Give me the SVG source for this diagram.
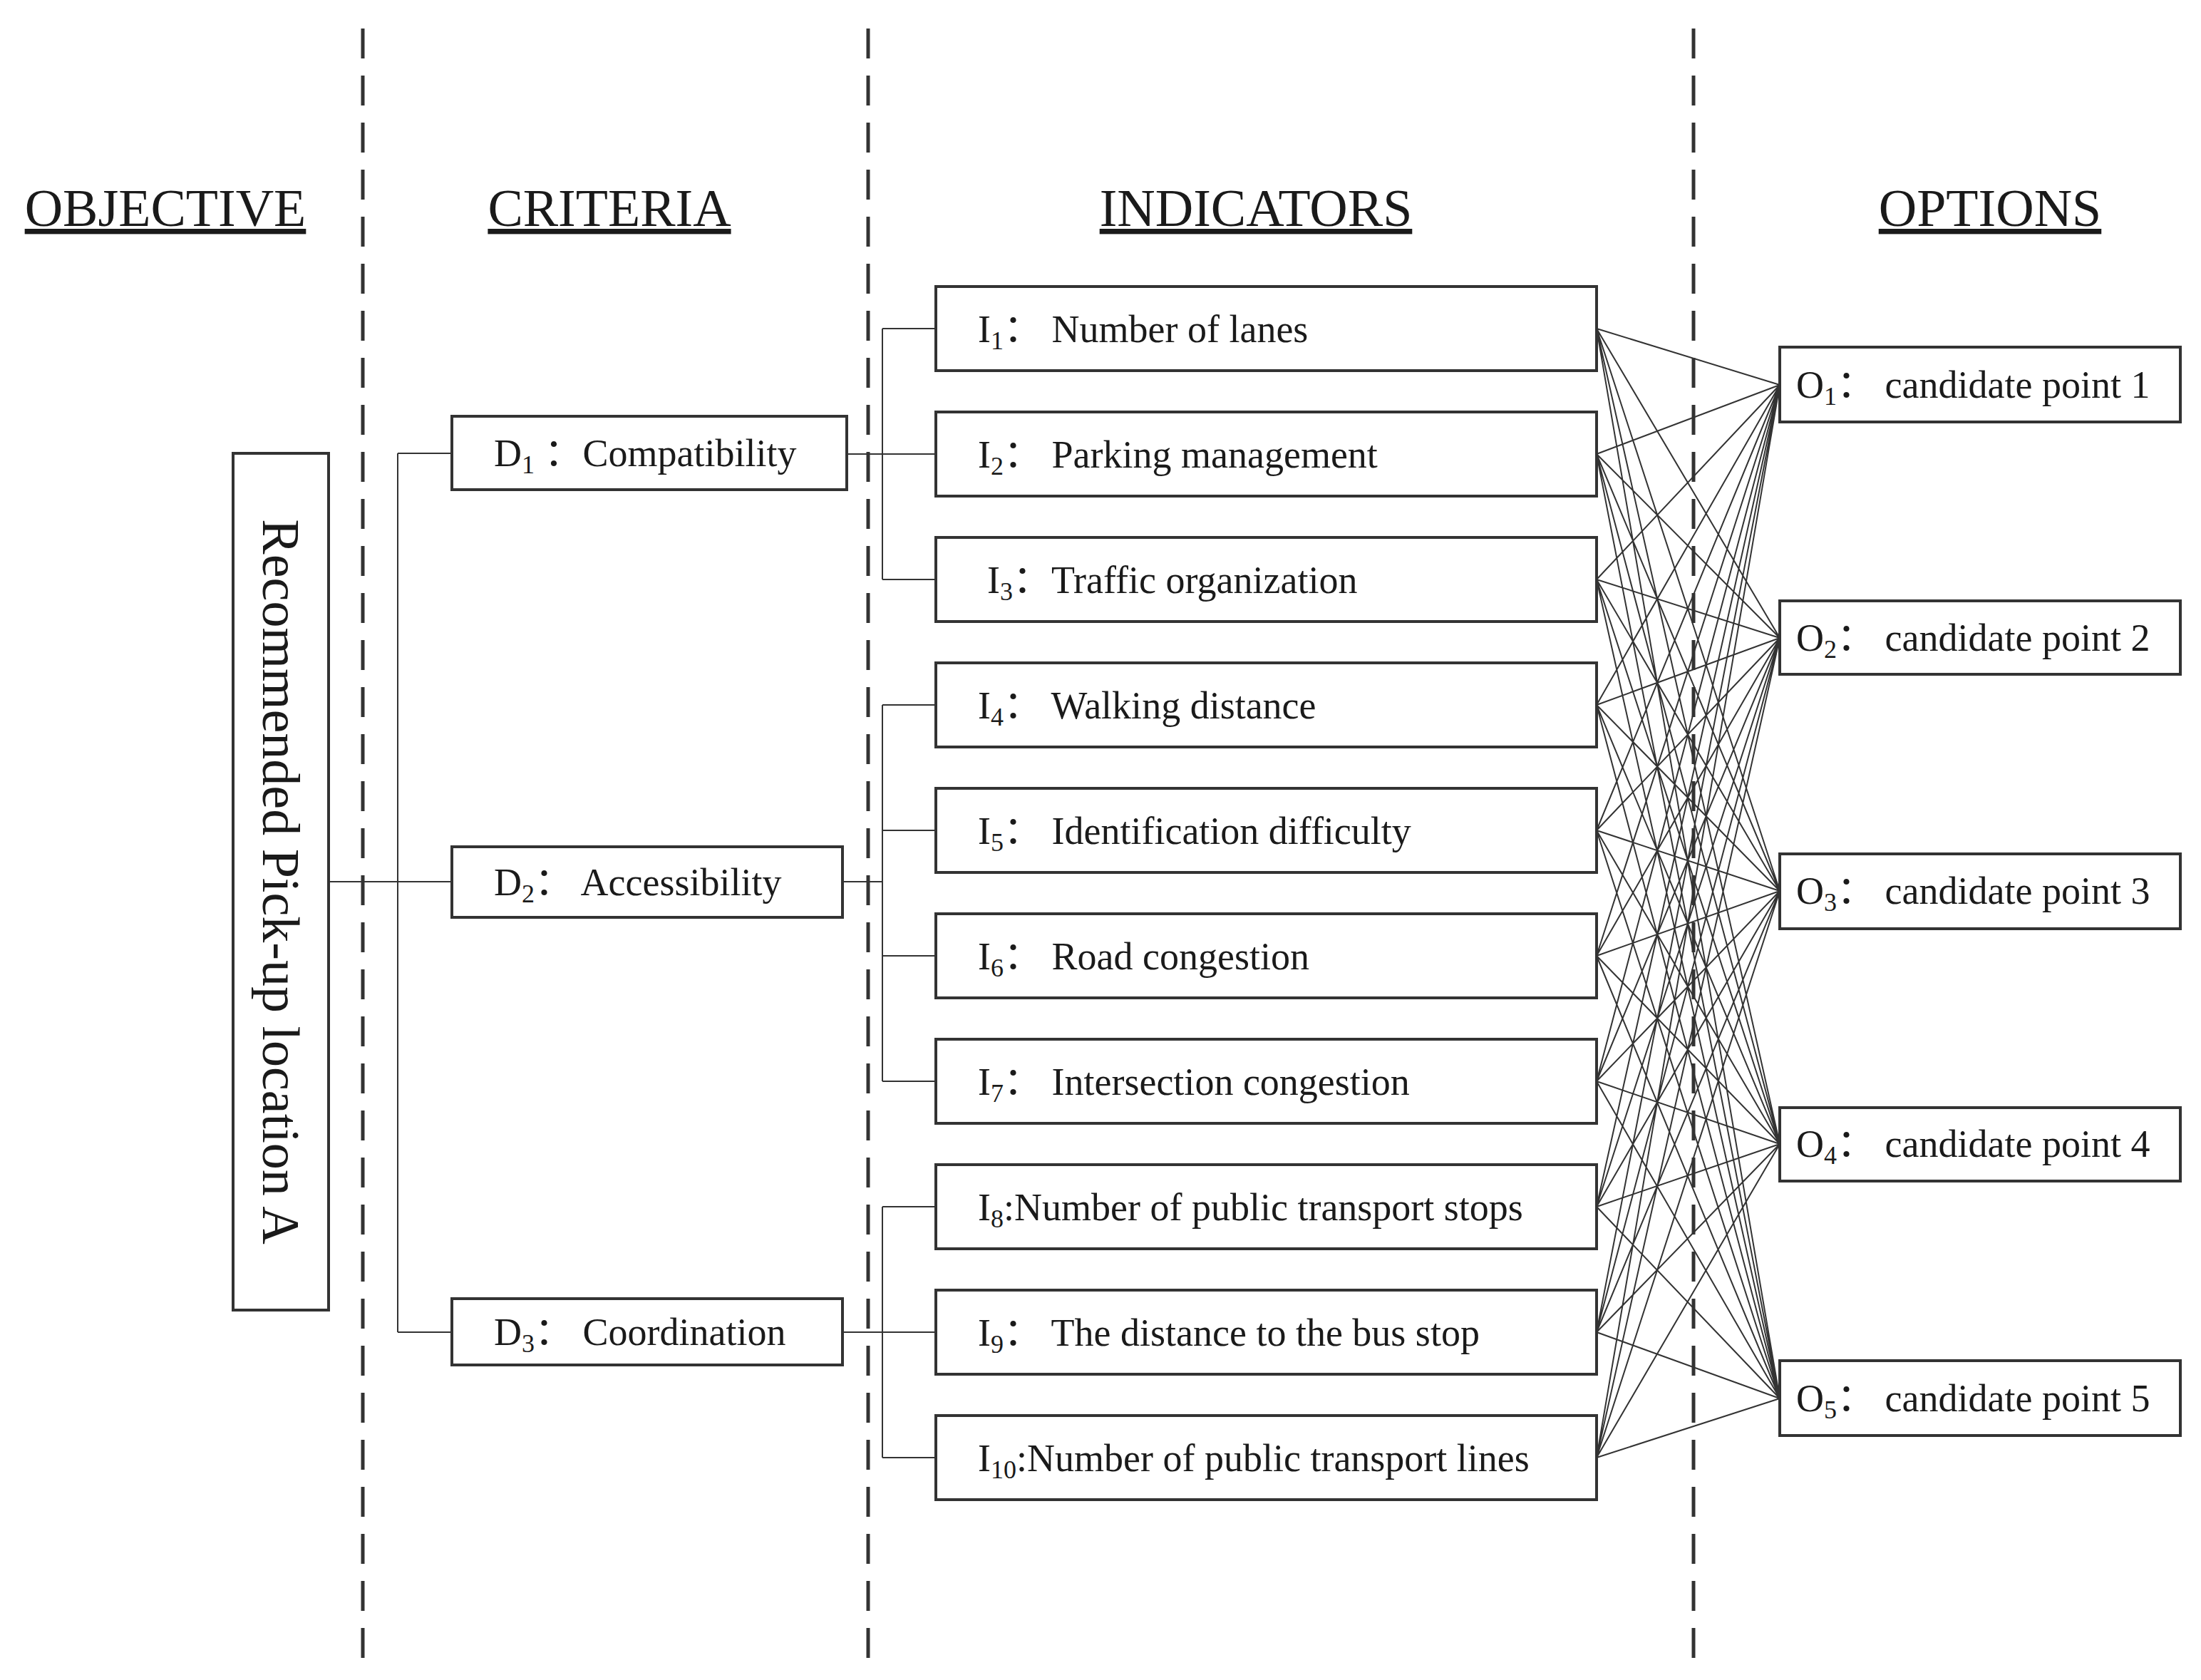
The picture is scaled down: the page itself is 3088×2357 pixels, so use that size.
<svg xmlns="http://www.w3.org/2000/svg" width="3088" height="2357" viewBox="0 0 3088 2357">
<style>
text{font-family:"Liberation Serif","Noto Sans CJK SC",serif;fill:#1a1a1a}
.h{font-size:74px;text-anchor:middle;text-decoration:underline}
.t{font-size:54px}
.b{fill:#fff;stroke:#333;stroke-width:4}
.d{stroke:#333;stroke-width:5;stroke-dasharray:42 24;fill:none}
.c line,.c path{stroke:#333;stroke-width:2;fill:none}
.s{font-size:36px}
</style>
<rect width="3088" height="2357" fill="#fff"/>
<g id="dividers">
<line class="d" x1="509" y1="40" x2="509" y2="2326"/>
<line class="d" x1="1218" y1="40" x2="1218" y2="2326"/>
<line class="d" x1="2376" y1="40" x2="2376" y2="2326"/>
</g>
<g id="headings">
<text class="h" x="232" y="317">OBJECTIVE</text>
<text class="h" x="855" y="317">CRITERIA</text>
<text class="h" x="1762" y="317">INDICATORS</text>
<text class="h" x="2792" y="317">OPTIONS</text>
</g>
<g class="c" id="connectors">
<path d="M461 1237H634M558 636V1869M558 636H634M558 1869H634"/>
<path d="M1188 637H1313M1238 461V813M1238 461H1313M1238 813H1313"/>
<path d="M1182 1237H1238M1238 989V1517M1238 989H1313M1238 1165H1313M1238 1341H1313M1238 1517H1313"/>
<path d="M1182 1869H1313M1238 1693V2045M1238 1693H1313M1238 2045H1313"/>
<path d="M2240 461L2497 540M2240 461L2497 895M2240 461L2497 1250M2240 461L2497 1605M2240 461L2497 1962
M2240 637L2497 540M2240 637L2497 895M2240 637L2497 1250M2240 637L2497 1605M2240 637L2497 1962
M2240 813L2497 540M2240 813L2497 895M2240 813L2497 1250M2240 813L2497 1605M2240 813L2497 1962
M2240 989L2497 540M2240 989L2497 895M2240 989L2497 1250M2240 989L2497 1605M2240 989L2497 1962
M2240 1165L2497 540M2240 1165L2497 895M2240 1165L2497 1250M2240 1165L2497 1605M2240 1165L2497 1962
M2240 1341L2497 540M2240 1341L2497 895M2240 1341L2497 1250M2240 1341L2497 1605M2240 1341L2497 1962
M2240 1517L2497 540M2240 1517L2497 895M2240 1517L2497 1250M2240 1517L2497 1605M2240 1517L2497 1962
M2240 1693L2497 540M2240 1693L2497 895M2240 1693L2497 1250M2240 1693L2497 1605M2240 1693L2497 1962
M2240 1869L2497 540M2240 1869L2497 895M2240 1869L2497 1250M2240 1869L2497 1605M2240 1869L2497 1962
M2240 2045L2497 540M2240 2045L2497 895M2240 2045L2497 1250M2240 2045L2497 1605M2240 2045L2497 1962"/>
</g>
<g id="A"><rect class="b" x="327" y="636" width="134" height="1202"/>
<text font-size="74" text-anchor="middle" transform="translate(394 1237) rotate(90)" dy="25">Recommended Pick-up location A</text></g>
<g id="D1"><rect class="b" x="634" y="584" width="554" height="103"/><text class="t" x="693" y="654">D<tspan class="s" dy="10">1</tspan><tspan dy="-10"> ：Compatibility</tspan></text></g>
<g id="D2"><rect class="b" x="634" y="1188" width="548" height="99"/><text class="t" x="693" y="1256">D<tspan class="s" dy="10">2</tspan><tspan dy="-10">： Accessibility</tspan></text></g>
<g id="D3"><rect class="b" x="634" y="1822" width="548" height="93"/><text class="t" x="693" y="1887">D<tspan class="s" dy="10">3</tspan><tspan dy="-10">： Coordination</tspan></text></g>
<g id="I1"><rect class="b" x="1313" y="402" width="927" height="118"/><text class="t" x="1372" y="480">I<tspan class="s" dy="10">1</tspan><tspan dy="-10">： Number of lanes</tspan></text></g>
<g id="I2"><rect class="b" x="1313" y="578" width="927" height="118"/><text class="t" x="1372" y="656">I<tspan class="s" dy="10">2</tspan><tspan dy="-10">： Parking management</tspan></text></g>
<g id="I3"><rect class="b" x="1313" y="754" width="927" height="118"/><text class="t" x="1385" y="832">I<tspan class="s" dy="10">3</tspan><tspan dy="-10">：Traffic organization</tspan></text></g>
<g id="I4"><rect class="b" x="1313" y="930" width="927" height="118"/><text class="t" x="1372" y="1008">I<tspan class="s" dy="10">4</tspan><tspan dy="-10">： Walking distance</tspan></text></g>
<g id="I5"><rect class="b" x="1313" y="1106" width="927" height="118"/><text class="t" x="1372" y="1184">I<tspan class="s" dy="10">5</tspan><tspan dy="-10">： Identification difficulty</tspan></text></g>
<g id="I6"><rect class="b" x="1313" y="1282" width="927" height="118"/><text class="t" x="1372" y="1360">I<tspan class="s" dy="10">6</tspan><tspan dy="-10">： Road congestion</tspan></text></g>
<g id="I7"><rect class="b" x="1313" y="1458" width="927" height="118"/><text class="t" x="1372" y="1536">I<tspan class="s" dy="10">7</tspan><tspan dy="-10">： Intersection congestion</tspan></text></g>
<g id="I8"><rect class="b" x="1313" y="1634" width="927" height="118"/><text class="t" x="1372" y="1712">I<tspan class="s" dy="10">8</tspan><tspan dy="-10">:Number of public transport stops</tspan></text></g>
<g id="I9"><rect class="b" x="1313" y="1810" width="927" height="118"/><text class="t" x="1372" y="1888">I<tspan class="s" dy="10">9</tspan><tspan dy="-10">： The distance to the bus stop</tspan></text></g>
<g id="I10"><rect class="b" x="1313" y="1986" width="927" height="118"/><text class="t" x="1372" y="2064">I<tspan class="s" dy="10">10</tspan><tspan dy="-10">:Number of public transport  lines</tspan></text></g>
<g id="O1"><rect class="b" x="2497" y="487" width="562" height="105"/><text class="t" x="2520" y="558">O<tspan class="s" dy="10">1</tspan><tspan dy="-10">： candidate point 1</tspan></text></g>
<g id="O2"><rect class="b" x="2497" y="843" width="562" height="103"/><text class="t" x="2520" y="913">O<tspan class="s" dy="10">2</tspan><tspan dy="-10">： candidate point 2</tspan></text></g>
<g id="O3"><rect class="b" x="2497" y="1198" width="562" height="105"/><text class="t" x="2520" y="1268">O<tspan class="s" dy="10">3</tspan><tspan dy="-10">： candidate point 3</tspan></text></g>
<g id="O4"><rect class="b" x="2497" y="1554" width="562" height="103"/><text class="t" x="2520" y="1623">O<tspan class="s" dy="10">4</tspan><tspan dy="-10">： candidate point 4</tspan></text></g>
<g id="O5"><rect class="b" x="2497" y="1909" width="562" height="105"/><text class="t" x="2520" y="1980">O<tspan class="s" dy="10">5</tspan><tspan dy="-10">： candidate point 5</tspan></text></g>
</svg>
